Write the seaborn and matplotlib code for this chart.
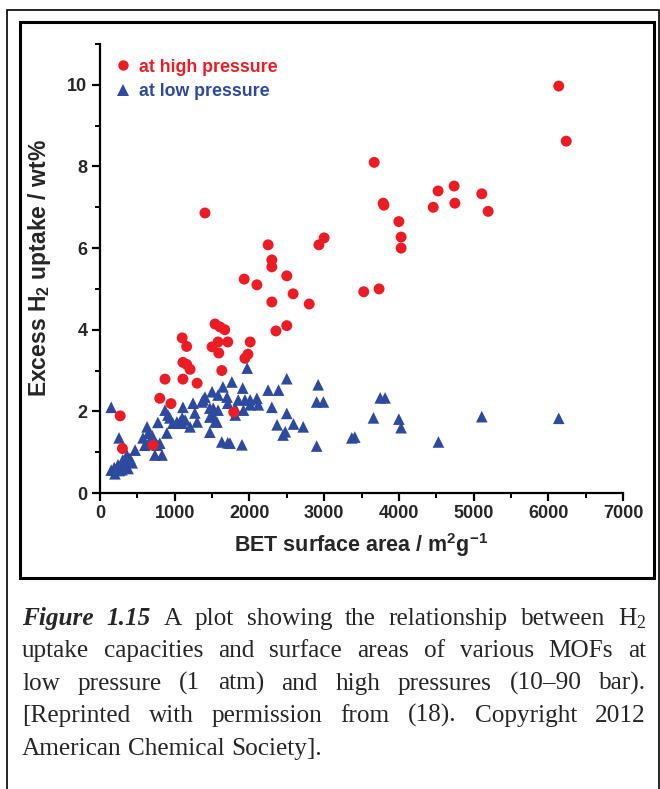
import matplotlib
matplotlib.use("Agg")
import matplotlib.pyplot as plt
import seaborn as sns
import numpy as np
import pandas as pd
from matplotlib.lines import Line2D
from matplotlib.patches import Rectangle
from matplotlib.ticker import MultipleLocator

# ---------------- data ----------------
high_bet = [6140, 6240, 3670, 3790, 3800, 4740, 4525, 4750, 4460, 5110,
            5195, 4000, 4030, 4030, 1405, 3000, 2930, 2250, 2300, 2300,
            2500, 1930, 2100, 3735, 3530, 2585, 2300, 2800, 1540, 1605,
            1670, 2500, 2355, 1100, 1500, 1580, 1710, 1160, 1590, 2010,
            1980, 1940, 1110, 1160, 1205, 1630, 1110, 870, 1300, 800,
            950, 1790, 270, 300, 710]
high_wt = [9.97, 8.62, 8.1, 7.1, 7.05, 7.52, 7.4, 7.1, 7.0, 7.33,
           6.9, 6.65, 6.27, 6.0, 6.86, 6.25, 6.08, 6.08, 5.71, 5.54,
           5.32, 5.24, 5.1, 5.0, 4.93, 4.88, 4.68, 4.63, 4.14, 4.07,
           4.0, 4.1, 3.97, 3.8, 3.58, 3.7, 3.7, 3.59, 3.43, 3.7,
           3.4, 3.3, 3.2, 3.15, 3.03, 3.0, 2.79, 2.79, 2.69, 2.32,
           2.19, 1.98, 1.89, 1.09, 1.17]

low_bet = [150, 255, 150, 200, 240, 305, 360, 375, 430, 295,
           335, 190, 260, 400, 470, 600, 575, 630, 645, 670,
           735, 830, 765, 800, 775, 870, 910, 895, 975, 935,
           1030, 1100, 1110, 1140, 1205, 1245, 1270, 1300, 1365, 1405,
           1470, 1500, 1510, 1565, 1470, 1580, 1645, 1700, 1710, 1630,
           1710, 1765, 1810, 1850, 1910, 1940, 1900, 1970, 1810, 2010,
           1920, 1540, 1580, 1515, 1380, 1470, 1070, 1100, 700, 1740,
           2100, 2120, 2010, 2250, 2390, 2300, 2500, 2500, 2370, 2480,
           2450, 2590, 2720, 2920, 2900, 2990, 2900, 3370, 3410, 3660,
           3750, 3815, 4000, 4030, 4530, 5110, 6140]
low_wt = [2.1, 1.35, 0.56, 0.47, 0.69, 0.81, 0.93, 0.6, 0.74, 0.57,
          0.73, 0.62, 0.55, 0.85, 1.05, 1.17, 1.35, 1.62, 1.46, 1.25,
          0.93, 0.93, 1.17, 1.22, 1.73, 2.03, 1.91, 1.47, 1.71, 1.84,
          1.74, 1.71, 2.1, 1.79, 1.62, 2.2, 1.96, 1.74, 2.23, 2.35,
          2.08, 2.48, 1.91, 1.74, 1.49, 2.4, 2.6, 2.35, 2.2, 1.25,
          1.23, 2.72, 2.08, 2.28, 2.57, 2.28, 1.18, 3.06, 1.91, 2.16,
          2.03, 1.74, 2.03, 2.08, 2.28, 1.86, 1.74, 1.84, 1.4, 1.22,
          2.32, 2.16, 2.28, 2.52, 2.52, 2.1, 2.8, 1.95, 1.67, 1.5,
          1.42, 1.69, 1.62, 2.65, 2.23, 2.23, 1.15, 1.35, 1.37, 1.84,
          2.33, 2.33, 1.81, 1.6, 1.25, 1.87, 1.83]

series_labels = ["at high pressure", "at low pressure"]
x_ticks = [0, 1000, 2000, 3000, 4000, 5000, 6000, 7000]
y_ticks = [0, 2, 4, 6, 8, 10]

caption_lines = [
    [("Figure", "bi"), ("1.15", "bi"), ("A", "r"), ("plot", "r"), ("showing", "r"),
     ("the", "r"), ("relationship", "r"), ("between", "r"), ("H$_2$", "r")],
    "uptake capacities and surface areas of various MOFs at",
    "low pressure (1 atm) and high pressures (10\u201390 bar).",
    "[Reprinted with permission from (18). Copyright 2012",
    "American Chemical Society].",
]

# ---------------- style ----------------
RED = "#EC1C24"
BLUE = "#2D4A9E"
sns.set_style("ticks")
plt.rcParams["font.family"] = ["Liberation Sans", "DejaVu Sans"]
plt.rcParams["mathtext.default"] = "regular"
plt.rcParams["axes.unicode_minus"] = False

W, H = 660, 789
fig = plt.figure(figsize=(W / 100, H / 100), dpi=100)
fig.patch.set_facecolor("white")


def fx(px):
    return px / W


def fy(py):
    return 1 - py / H


ax_l, ax_r, ax_t, ax_b = 100, 623, 44, 493
ax = fig.add_axes([fx(ax_l), fy(ax_b), fx(ax_r) - fx(ax_l), fy(ax_t) - fy(ax_b)])

df_low = pd.DataFrame({"bet": low_bet, "wt": low_wt})
df_high = pd.DataFrame({"bet": high_bet, "wt": high_wt})

sns.scatterplot(data=df_low, x="bet", y="wt", marker="^", color=BLUE, s=70,
                edgecolor="none", linewidth=0, ax=ax, legend=False, clip_on=False)
sns.scatterplot(data=df_high, x="bet", y="wt", marker="o", color=RED, s=62,
                edgecolor="none", linewidth=0, ax=ax, legend=False, clip_on=False)

ax.set_xlim(0, 7000)
ax.set_ylim(0, 11)
ax.set_xticks(x_ticks)
ax.set_yticks(y_ticks)
ax.xaxis.set_minor_locator(MultipleLocator(500))
ax.yaxis.set_minor_locator(MultipleLocator(1))
sns.despine(ax=ax)
for sp in ["left", "bottom"]:
    ax.spines[sp].set_linewidth(1.6)
    ax.spines[sp].set_color("black")
ax.tick_params(which="major", direction="out", length=6, width=1.6, color="black",
               labelsize=13, pad=3)
ax.tick_params(which="minor", direction="out", length=3.6, width=1.4, color="black")
for lab in ax.get_xticklabels() + ax.get_yticklabels():
    lab.set_fontweight("bold")

ax.set_xlabel("BET surface area / m$^2$g$^{-1}$", fontsize=15.5, fontweight="bold",
              labelpad=6)
ax.set_ylabel("Excess H$_2$ uptake / wt%", fontsize=16.5, fontweight="bold",
              labelpad=10)

handles = [Line2D([], [], marker="o", linestyle="none", color=RED, markersize=7.5,
                  markeredgewidth=0),
           Line2D([], [], marker="^", linestyle="none", color=BLUE, markersize=9,
                  markeredgewidth=0)]
ax.legend(handles, series_labels, loc="upper left", bbox_to_anchor=(0.0, 0.995),
          frameon=False, labelcolor=[RED, BLUE],
          prop={"weight": "bold", "size": 12.8}, handletextpad=0.3,
          labelspacing=0.42, handlelength=1.2, borderaxespad=0.3)

# ---------------- frames ----------------
fig.add_artist(Rectangle((fx(7), fy(H + 5)), fx(659) - fx(7), fy(10) - fy(H + 5),
                         transform=fig.transFigure, fill=False, lw=1.2,
                         edgecolor="black"))
fig.add_artist(Rectangle((fx(20), fy(578)), fx(654) - fx(20), fy(22) - fy(578),
                         transform=fig.transFigure, fill=False, lw=2.2,
                         edgecolor="black"))

# ---------------- caption (justified) ----------------
serif = ["Liberation Serif", "DejaVu Serif"]
cap_size = 18.2
x_left, x_right = 22, 646
baselines = [625, 657, 690, 722, 755]
renderer = fig.canvas.get_renderer()

for i, line in enumerate(caption_lines):
    if isinstance(line, str):
        tokens = [(w, "r") for w in line.split(" ")]
    else:
        tokens = line
    texts = []
    for word, st in tokens:
        kw = dict(fontsize=cap_size, family=serif, va="baseline", ha="left")
        if st == "bi":
            kw.update(fontweight="bold", fontstyle="italic")
        texts.append(fig.text(0, fy(baselines[i]), word, **kw))
    widths = [t.get_window_extent(renderer).width for t in texts]
    last = i == len(caption_lines) - 1
    if last:
        space = fig.text(0, 0, "a b", fontsize=cap_size, family=serif)
        w1 = space.get_window_extent(renderer).width
        space.set_text("ab")
        w2 = space.get_window_extent(renderer).width
        space.remove()
        gap = w1 - w2
    else:
        gap = (x_right - x_left - sum(widths)) / (len(texts) - 1)
    x = x_left
    for t, w in zip(texts, widths):
        t.set_x(fx(x))
        x += w + gap

fig.savefig("out.png", dpi=100, facecolor="white")
